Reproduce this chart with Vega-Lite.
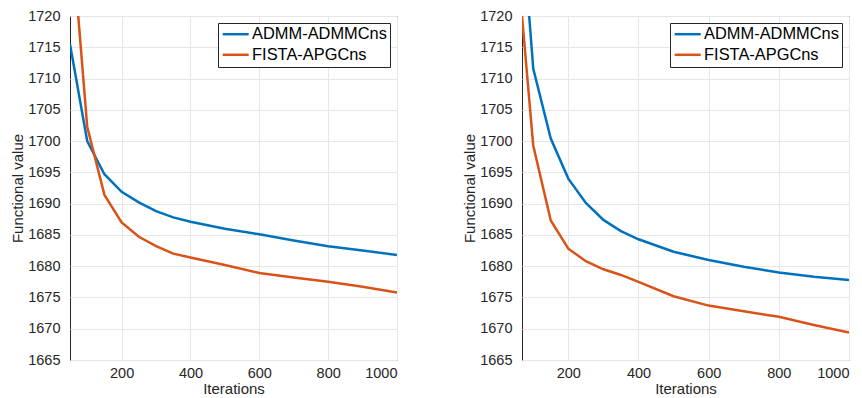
{
  "$schema": "https://vega.github.io/schema/vega-lite/v6.json",
  "padding": {"left": 10, "top": 7, "right": 0, "bottom": 0},
  "background": "white",
  "config": {
    "font": "Liberation Sans",
    "view": {"stroke": "#262626", "strokeWidth": 1},
    "axis": {
      "domain": false,
      "gridColor": "#e6e6e6",
      "gridWidth": 1,
      "ticks": false,
      "tickSize": 0,
      "labelColor": "#262626",
      "titleColor": "#262626",
      "labelFontSize": 14.5,
      "titleFontSize": 15,
      "titleFontWeight": "normal",
      "labelFont": "Liberation Sans",
      "titleFont": "Liberation Sans",
      "format": "d"
    },
    "legend": {
      "orient": "top-right",
      "offset": 7,
      "strokeColor": "#262626",
      "fillColor": "white",
      "padding": 3,
      "rowPadding": 3.6,
      "labelFontSize": 16.4,
      "labelColor": "#000000",
      "labelFont": "Liberation Sans",
      "labelExpr": "datum.label + '\u00a0'",
      "symbolType": "M-1,0L3,0",
      "symbolSize": 169,
      "symbolStrokeWidth": 2.5,
      "labelOffset": 14.7,
      "title": null
    }
  },
  "datasets": {
    "left": [
      {"iter": 50, "value": 1715.5, "method": "ADMM-ADMMCns"},
      {"iter": 100, "value": 1700.0, "method": "ADMM-ADMMCns"},
      {"iter": 150, "value": 1694.7, "method": "ADMM-ADMMCns"},
      {"iter": 200, "value": 1691.9, "method": "ADMM-ADMMCns"},
      {"iter": 250, "value": 1690.2, "method": "ADMM-ADMMCns"},
      {"iter": 300, "value": 1688.8, "method": "ADMM-ADMMCns"},
      {"iter": 350, "value": 1687.8, "method": "ADMM-ADMMCns"},
      {"iter": 400, "value": 1687.1, "method": "ADMM-ADMMCns"},
      {"iter": 500, "value": 1686.0, "method": "ADMM-ADMMCns"},
      {"iter": 600, "value": 1685.1, "method": "ADMM-ADMMCns"},
      {"iter": 700, "value": 1684.1, "method": "ADMM-ADMMCns"},
      {"iter": 800, "value": 1683.2, "method": "ADMM-ADMMCns"},
      {"iter": 900, "value": 1682.5, "method": "ADMM-ADMMCns"},
      {"iter": 1000, "value": 1681.8, "method": "ADMM-ADMMCns"},
      {"iter": 50, "value": 1736.3, "method": "FISTA-APGCns"},
      {"iter": 100, "value": 1702.3, "method": "FISTA-APGCns"},
      {"iter": 150, "value": 1691.4, "method": "FISTA-APGCns"},
      {"iter": 200, "value": 1687.0, "method": "FISTA-APGCns"},
      {"iter": 250, "value": 1684.7, "method": "FISTA-APGCns"},
      {"iter": 300, "value": 1683.2, "method": "FISTA-APGCns"},
      {"iter": 350, "value": 1682.0, "method": "FISTA-APGCns"},
      {"iter": 400, "value": 1681.4, "method": "FISTA-APGCns"},
      {"iter": 500, "value": 1680.2, "method": "FISTA-APGCns"},
      {"iter": 600, "value": 1678.9, "method": "FISTA-APGCns"},
      {"iter": 700, "value": 1678.2, "method": "FISTA-APGCns"},
      {"iter": 800, "value": 1677.5, "method": "FISTA-APGCns"},
      {"iter": 900, "value": 1676.7, "method": "FISTA-APGCns"},
      {"iter": 1000, "value": 1675.8, "method": "FISTA-APGCns"}
    ],
    "right": [
      {"iter": 50, "value": 1748.0, "method": "ADMM-ADMMCns"},
      {"iter": 100, "value": 1711.6, "method": "ADMM-ADMMCns"},
      {"iter": 150, "value": 1700.4, "method": "ADMM-ADMMCns"},
      {"iter": 200, "value": 1694.0, "method": "ADMM-ADMMCns"},
      {"iter": 250, "value": 1690.1, "method": "ADMM-ADMMCns"},
      {"iter": 300, "value": 1687.4, "method": "ADMM-ADMMCns"},
      {"iter": 350, "value": 1685.6, "method": "ADMM-ADMMCns"},
      {"iter": 400, "value": 1684.3, "method": "ADMM-ADMMCns"},
      {"iter": 500, "value": 1682.3, "method": "ADMM-ADMMCns"},
      {"iter": 600, "value": 1681.0, "method": "ADMM-ADMMCns"},
      {"iter": 700, "value": 1679.9, "method": "ADMM-ADMMCns"},
      {"iter": 800, "value": 1679.0, "method": "ADMM-ADMMCns"},
      {"iter": 900, "value": 1678.3, "method": "ADMM-ADMMCns"},
      {"iter": 1000, "value": 1677.8, "method": "ADMM-ADMMCns"},
      {"iter": 50, "value": 1731.6, "method": "FISTA-APGCns"},
      {"iter": 100, "value": 1699.3, "method": "FISTA-APGCns"},
      {"iter": 150, "value": 1687.3, "method": "FISTA-APGCns"},
      {"iter": 200, "value": 1682.8, "method": "FISTA-APGCns"},
      {"iter": 250, "value": 1680.8, "method": "FISTA-APGCns"},
      {"iter": 300, "value": 1679.5, "method": "FISTA-APGCns"},
      {"iter": 350, "value": 1678.6, "method": "FISTA-APGCns"},
      {"iter": 400, "value": 1677.5, "method": "FISTA-APGCns"},
      {"iter": 500, "value": 1675.2, "method": "FISTA-APGCns"},
      {"iter": 600, "value": 1673.7, "method": "FISTA-APGCns"},
      {"iter": 700, "value": 1672.8, "method": "FISTA-APGCns"},
      {"iter": 800, "value": 1671.9, "method": "FISTA-APGCns"},
      {"iter": 900, "value": 1670.6, "method": "FISTA-APGCns"},
      {"iter": 1000, "value": 1669.4, "method": "FISTA-APGCns"}
    ]
  },
  "spacing": 64,
  "resolve": {"scale": {"color": "independent", "x": "independent", "y": "independent"}, "legend": {"color": "independent"}},
  "hconcat": [
    {
      "width": 327,
      "height": 344,
      "data": {"name": "left"},
      "mark": {"type": "line", "strokeWidth": 2.5, "clip": true},
      "encoding": {
        "x": {"field": "iter", "type": "quantitative", "scale": {"domain": [50, 1000], "nice": false, "zero": false},
              "axis": {"title": "Iterations", "values": [200, 400, 600, 800, 1000], "labelPadding": 6, "titlePadding": 2}},
        "y": {"field": "value", "type": "quantitative", "scale": {"domain": [1665, 1720], "nice": false, "zero": false},
              "axis": {"title": "Functional value", "values": [1665, 1670, 1675, 1680, 1685, 1690, 1695, 1700, 1705, 1710, 1715, 1720], "labelPadding": 10, "titlePadding": 2}},
        "color": {"field": "method", "type": "nominal", "scale": {"domain": ["ADMM-ADMMCns", "FISTA-APGCns"], "range": ["#0072BD", "#D95319"]}}
      }
    },
    {
      "width": 327,
      "height": 344,
      "data": {"name": "right"},
      "mark": {"type": "line", "strokeWidth": 2.5, "clip": true},
      "encoding": {
        "x": {"field": "iter", "type": "quantitative", "scale": {"domain": [68, 1000], "nice": false, "zero": false},
              "axis": {"title": "Iterations", "values": [200, 400, 600, 800, 1000], "labelPadding": 6, "titlePadding": 2}},
        "y": {"field": "value", "type": "quantitative", "scale": {"domain": [1665, 1720], "nice": false, "zero": false},
              "axis": {"title": "Functional value", "values": [1665, 1670, 1675, 1680, 1685, 1690, 1695, 1700, 1705, 1710, 1715, 1720], "labelPadding": 10, "titlePadding": 2}},
        "color": {"field": "method", "type": "nominal", "scale": {"domain": ["ADMM-ADMMCns", "FISTA-APGCns"], "range": ["#0072BD", "#D95319"]}}
      }
    }
  ]
}
